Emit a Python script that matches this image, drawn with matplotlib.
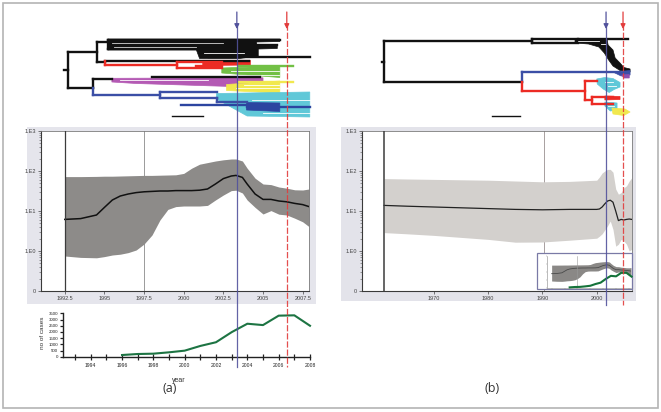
import matplotlib
matplotlib.use('Agg')
import matplotlib.pyplot as plt
from matplotlib.patches import Rectangle, Polygon, FancyArrowPatch
from matplotlib.lines import Line2D
from matplotlib import transforms
from matplotlib.ticker import NullFormatter

W, H = 661, 412

# ---------------- data: panel (a) skyline (log10 of Ne*tau) ----------------
years_a = [1992.5, 1993.5, 1994.5, 1995, 1995.5, 1996, 1996.5, 1997, 1997.5, 1998,
           1998.5, 1999, 1999.5, 2000, 2000.5, 2001, 2001.5, 2002, 2002.5, 2003,
           2003.3, 2003.7, 2004, 2004.5, 2005, 2005.5, 2006, 2006.5, 2007, 2007.5, 2007.9]
med_a = [0.79, 0.81, 0.90, 1.09, 1.275, 1.375, 1.425, 1.46, 1.48, 1.49,
         1.50, 1.50, 1.51, 1.51, 1.51, 1.52, 1.55, 1.675, 1.81, 1.875,
         1.89, 1.84, 1.675, 1.425, 1.29, 1.29, 1.25, 1.23, 1.19, 1.16, 1.11]
up_a = [1.86, 1.86, 1.865, 1.87, 1.87, 1.875, 1.88, 1.885, 1.89, 1.89,
        1.895, 1.90, 1.905, 1.94, 2.07, 2.17, 2.21, 2.25, 2.28, 2.30,
        2.30, 2.25, 2.07, 1.82, 1.675, 1.66, 1.60, 1.57, 1.53, 1.525, 1.55]
lo_a = [-0.125, -0.16, -0.17, -0.14, -0.10, -0.08, -0.04, 0.025, 0.175, 0.40,
        0.775, 1.04, 1.11, 1.125, 1.125, 1.125, 1.14, 1.275, 1.40, 1.51,
        1.52, 1.45, 1.275, 1.09, 0.925, 1.01, 0.92, 0.90, 0.82, 0.73, 0.61]

# ---------------- data: panel (b) skyline ----------------
years_b = [1960.8, 1965, 1970, 1975, 1980, 1985, 1990, 1995, 2000, 2000.5, 2001,
           2001.5, 2002, 2002.5, 2003, 2003.5, 2004, 2004.5, 2005, 2005.5, 2006, 2006.45]
med_b = [1.14, 1.12, 1.10, 1.08, 1.06, 1.04, 1.03, 1.04, 1.04, 1.05, 1.10,
         1.18, 1.25, 1.27, 1.22, 1.00, 0.76, 0.79, 0.775, 0.79, 0.80, 0.79]
up_b = [1.81, 1.80, 1.79, 1.78, 1.77, 1.75, 1.73, 1.74, 1.77, 1.85, 1.95,
        2.00, 2.04, 2.04, 1.97, 1.55, 1.42, 1.46, 1.58, 1.63, 1.75, 1.83]
lo_b = [0.46, 0.43, 0.39, 0.34, 0.29, 0.22, 0.225, 0.27, 0.32, 0.37, 0.43,
        0.53, 0.63, 0.75, 0.54, 0.12, 0.17, 0.29, 0.25, 0.17, 0.00, 0.04]

# ---------------- data: reported cases ----------------
years_cases = [1996, 1997, 1998, 1999, 2000, 2001, 2002, 2003, 2004, 2005, 2006, 2007, 2008]
cases = [136, 217, 244, 353, 488, 868, 1167, 1980, 2659, 2550, 3310, 3337, 2496]

ytick_vals = [0.1, 1, 10, 100, 1000]
ytick_labels = ['0', '1.E0', '1.E1', '1.E2', '1.E3']
xticks_a = [1992.5, 1995, 1997.5, 2000, 2002.5, 2005, 2007.5]
xlabels_a = ['1992.5', '1995', '1997.5', '2000', '2002.5', '2005', '2007.5']
xticks_b = [1970, 1980, 1990, 2000]
xlabels_b = ['1970', '1980', '1990', '2000']
vlines_a = [1992.5, 1997.5]
vlines_b = [1960.8, 1990.2]
markers_a = [2003.35, 2006.5]
markers_b = [2001.72, 2004.85]

# ---------------- tree colours ----------------
K = '#111111'; R = '#ec2b24'; G = '#72c045'; M = '#b45ab4'; Y = '#f1e84f'
B = '#3b4fa6'; C = '#60c8d8'; DB = '#2c45a0'; P = '#8d4fb0'; Wt = 'white'

# tree (a): x = year, y = tip row
tree_a_fill = [
    (K, [(1995.22, 39.0), (2006.06, 39.0), (2006.06, 41.5), (2004.6, 42.0), (2004.6, 46.0),
         (2005.9, 46.0), (2005.9, 48.5), (2004.7, 49.0), (2004.7, 56.0), (2003.5, 58.5),
         (2001.0, 58.5), (2000.8, 50.0), (1995.22, 50.0)]),
    (R, [(2001.2, 60.3), (2004.2, 60.3), (2004.2, 65.0), (2001.2, 65.5)]),
    (G, [(2002.4, 68.0), (2006.06, 66.0), (2006.06, 77.5), (2002.4, 73.0)]),
    (M, [(1995.47, 78.3), (2005.0, 77.8), (2005.0, 86.0), (2003.0, 86.5), (1997.0, 83.5),
         (1995.47, 82.0)]),
    (Y, [(2002.7, 84.5), (2006.06, 81.0), (2006.06, 93.0), (2002.7, 90.5)]),
    (C, [(2002.07, 93.5), (2007.95, 92.0), (2007.95, 117.0), (2004.0, 116.0), (2002.07, 99.0)]),
    (DB, [(2003.96, 102.5), (2006.06, 103.0), (2006.06, 111.5), (2003.96, 110.0)]),
]
tree_a_h = [
    (1995.5, 2002.5, 43.3, Wt), (1995.6, 2000.8, 46.8, Wt), (2001.3, 2003.8, 53.0, Wt),
    (2003.0, 2006.0, 70.8, Wt), (2003.5, 2006.0, 74.5, Wt),
    (1996.0, 2001.5, 80.3, Wt),
    (2003.3, 2006.0, 88.0, Wt), (2003.8, 2006.0, 84.5, Wt),
    (2004.3, 2007.95, 100.0, Wt), (2005.0, 2007.95, 113.0, Wt), (2004.3, 2006.0, 107.0, Wt),
    (1992.68, 1994.53, 51.7, K), (1992.68, 1994.28, 87.7, K),
    (1994.53, 1995.22, 42.0, K), (1995.22, 2006.06, 40.0, K), (1995.22, 2001.0, 48.5, K),
    (1995.5, 2005.9, 45.0, K), (2001.6, 2007.95, 57.0, K),
    (1994.53, 1995.03, 62.0, K), (1995.03, 2004.1, 61.2, K),
    (1995.03, 1999.57, 64.5, R), (1999.57, 2002.4, 62.2, R), (1999.57, 2002.4, 68.0, R),
    (2000.8, 2002.4, 66.0, R), (2003.5, 2006.9, 65.5, G),
    (1994.28, 1995.47, 79.0, K), (1998.0, 2004.8, 77.3, K), (2003.5, 2006.9, 81.7, Y),
    (1994.28, 1998.5, 95.2, B), (1998.5, 2002.07, 92.0, B), (1998.5, 2002.07, 97.5, B),
    (2002.07, 2004.0, 101.5, B), (1999.8, 2004.0, 104.5, DB), (2003.96, 2007.95, 106.5, DB),
    (1992.45, 1992.68, 69.7, K),
]
tree_a_v = [
    (1992.68, 51.7, 87.7, K), (1994.53, 42.0, 62.0, K), (1995.22, 40.0, 48.5, K),
    (1994.28, 79.0, 87.7, K), (1994.28, 87.7, 95.2, B), (1995.03, 61.2, 64.5, R),
    (1999.57, 62.2, 68.0, R), (1998.5, 92.0, 97.5, B), (2002.07, 97.5, 101.5, B),
]
scale_a = (1999.25, 2001.21, 116.0)

# tree (b)
tree_b_fill = [
    (K, [(1996.0, 39.5), (2001.9, 39.0), (2002.1, 45.0), (2003.0, 50.0), (2003.4, 58.0),
         (2004.3, 63.0), (2005.0, 67.5), (2006.15, 69.0), (2006.15, 72.0), (2004.3, 70.5),
         (2003.0, 66.0), (2002.2, 60.0), (2001.4, 53.0), (2000.4, 47.0), (1998.5, 44.0),
         (1996.0, 43.0)]),
    (B, [(2003.0, 72.0), (2006.15, 70.5), (2006.15, 75.0), (2004.5, 76.0)]),
    (P, [(2004.6, 75.0), (2006.0, 74.5), (2006.0, 78.0), (2005.0, 78.0)]),
    (C, [(2000.0, 79.0), (2001.5, 77.5), (2003.0, 78.5), (2004.3, 82.5), (2004.3, 87.0),
         (2003.2, 89.5), (2002.3, 92.5), (2001.2, 89.0), (2000.1, 84.0)]),
    (R, [(2001.5, 96.0), (2004.3, 96.5), (2004.3, 99.5), (2001.5, 100.0)]),
    (C, [(2001.5, 102.0), (2003.75, 103.0), (2003.75, 110.0), (2002.5, 111.0), (2001.5, 106.0)]),
    (Y, [(2002.8, 108.0), (2005.2, 109.0), (2006.15, 112.0), (2005.0, 115.5), (2003.0, 114.0)]),
]
tree_b_h = [
    (1996.6, 2000.5, 41.2, Wt), (2000.8, 2001.8, 44.0, Wt), (2001.5, 2003.0, 82.0, Wt),
    (2002.0, 2003.6, 86.0, Wt), (2002.0, 2003.2, 106.0, Wt),
    (1960.8, 1988.0, 41.0, K), (1988.0, 1996.6, 39.3, K), (1988.0, 1996.6, 42.7, K),
    (1996.6, 2005.8, 38.5, K), (1960.8, 1986.23, 82.3, K),
    (1986.23, 2004.3, 72.3, B), (1986.23, 1997.85, 90.5, R), (1997.85, 2000.07, 81.0, R),
    (1997.85, 1999.14, 100.0, R), (1999.14, 2003.0, 97.0, R), (1999.14, 2003.0, 103.5, R),
    (1960.5, 1960.8, 61.6, K),
]
tree_b_v = [
    (1960.8, 41.0, 82.3, K), (1988.0, 39.3, 42.7, K), (1986.23, 72.3, 82.3, B),
    (1986.23, 82.3, 90.5, R), (1997.85, 81.0, 100.0, R), (1999.14, 97.0, 103.5, R),
]
scale_b = (1980.7, 1985.9, 116.0)

# ---------------- figure ----------------
plt.rcParams['font.family'] = ['Liberation Sans', 'DejaVu Sans']
fig = plt.figure(figsize=(W / 100, H / 100), dpi=100)
fig.patch.set_facecolor('white')


def box(l, t, r, b):
    return [l / W, 1 - b / H, (r - l) / W, (b - t) / H]


def frect(l, t, r, b, **kw):
    rect = Rectangle((l / W, 1 - b / H), (r - l) / W, (b - t) / H,
                     transform=fig.transFigure, **kw)
    fig.add_artist(rect)
    return rect


# outer frame and gray panels
frect(3, 3, 658, 408, facecolor='none', edgecolor='#b4b4b4', lw=1.2, zorder=-2)
frect(27, 127, 316, 304, facecolor='#e5e5ec', edgecolor='none', zorder=-1)
frect(341, 127, 636, 301, facecolor='#e3e3ea', edgecolor='none', zorder=-1)


def setup_mid(ax, xlim, xticks, xlabels):
    ax.set_yscale('log')
    ax.set_ylim(0.1, 1000)
    ax.set_xlim(*xlim)
    ax.set_yticks(ytick_vals)
    ax.set_yticklabels(ytick_labels)
    ax.yaxis.set_minor_formatter(NullFormatter())
    ax.set_xticks(xticks)
    ax.set_xticklabels(xlabels)
    ax.tick_params(labelsize=4, colors='#444444', length=2, width=0.5, pad=1.5)
    ax.tick_params(which='minor', length=1.2, width=0.4, colors='#555555')
    ax.set_facecolor('white')
    for s in ['left', 'bottom']:
        ax.spines[s].set_color('#3a3a3a')
        ax.spines[s].set_linewidth(0.8)
    for s in ['top', 'right']:
        ax.spines[s].set_color('#7a7a7a')
        ax.spines[s].set_linewidth(0.6)


ax_a = fig.add_axes(box(41, 131, 309, 291))
setup_mid(ax_a, (1991.0, 2007.9), xticks_a, xlabels_a)
ax_a.fill_between(years_a, [10 ** v for v in lo_a], [10 ** v for v in up_a],
                  color='#8d8b89', lw=0, zorder=2)
ax_a.plot(years_a, [10 ** v for v in med_a], color='#111111', lw=1.1, zorder=3)
ax_a.axvline(vlines_a[0], color='#3c3c3c', lw=0.9, zorder=4)
ax_a.axvline(vlines_a[1], color='#8a8a8a', lw=0.6, zorder=1)

ax_b = fig.add_axes(box(361.7, 131, 631.7, 291))
setup_mid(ax_b, (1956.67, 2006.45), xticks_b, xlabels_b)
ax_b.fill_between(years_b, [10 ** v for v in lo_b], [10 ** v for v in up_b],
                  color='#d3d0cd', lw=0, zorder=2)
ax_b.plot(years_b, [10 ** v for v in med_b], color='#222222', lw=0.9, zorder=3)
ax_b.axvline(vlines_b[0], color='#3c3c3c', lw=1.1, zorder=4)
ax_b.axvline(vlines_b[1], color='#9a9090', lw=0.6, zorder=1)

# inset in (b)
frect(537, 253, 632, 289, facecolor='white', edgecolor='#7a7aa6', lw=0.9, zorder=1)
ax_in = fig.add_axes(box(547, 256, 631, 288))
ax_in.set_zorder(2)
ax_in.set_facecolor('none')
ax_in.set_yscale('log')
ax_in.set_ylim(0.1, 1000)
ax_in.set_xlim(1991.6, 2007.9)
ax_in.fill_between(years_a, [10 ** v for v in lo_a], [10 ** v for v in up_a],
                   color='#8a8886', lw=0)
ax_in.plot(years_a, [10 ** v for v in med_a], color='#4a4a4a', lw=0.6)
ax_in.axvline(vlines_a[1], color='#9a9a9a', lw=0.4)
ax_in.set_xticks(xticks_a)
ax_in.set_xticklabels([])
ax_in.set_yticks(ytick_vals)
ax_in.set_yticklabels([])
ax_in.yaxis.set_minor_formatter(NullFormatter())
ax_in.tick_params(length=1, width=0.3, colors='#888888')
ax_in.tick_params(which='minor', length=0)
for s in ['top', 'right']:
    ax_in.spines[s].set_visible(False)
for s in ['left', 'bottom']:
    ax_in.spines[s].set_color('#888888')
    ax_in.spines[s].set_linewidth(0.4)
ax_in2 = ax_in.twinx()
ax_in2.plot(years_cases, cases, color='#15733a', lw=1.5, clip_on=False)
ax_in2.set_ylim(0, 7000)
ax_in2.axis('off')

# cases panel (a)
ax_c = fig.add_axes(box(63.3, 313.3, 310, 356.7))
ax_c.plot(years_cases, cases, color='#1d7443', lw=1.5, clip_on=False, zorder=3)
ax_c.set_xlim(1992.25, 2008.0)
ax_c.set_ylim(0, 3500)
ax_c.set_xticks(list(range(1993, 2009)))
ax_c.set_xticklabels([str(y) if y % 2 == 0 else '' for y in range(1993, 2009)])
ax_c.set_yticks(list(range(0, 3501, 500)))
for s in ['top', 'right']:
    ax_c.spines[s].set_visible(False)
for s in ['left', 'bottom']:
    ax_c.spines[s].set_color('#222222')
    ax_c.spines[s].set_linewidth(1.0)
ax_c.tick_params(axis='x', direction='inout', length=4.5, width=0.9, labelsize=3.6,
                 pad=2.5, colors='#222222')
ax_c.tick_params(axis='y', direction='out', length=2.5, width=0.9, labelsize=3.2,
                 pad=1, colors='#222222')
ax_c.set_ylabel('no of cases', fontsize=4.6, color='#333333')
ax_c.set_xlabel('year', fontsize=5, color='#333333')
ax_c.yaxis.set_label_coords(-0.075, 0.55)
ax_c.xaxis.set_label_coords(0.47, -0.46)


# trees
def draw_tree(ax, fills, hsegs, vsegs, scale):
    for col, pts in fills:
        ax.add_patch(Polygon(pts, closed=True, facecolor=col, edgecolor=col, lw=0.5))
    for x0, x1, y, col in hsegs:
        lw = 0.6 if col == Wt else 1.7
        ax.plot([x0, x1], [y, y], color=col, lw=lw, solid_capstyle='projecting')
    for x, y0, y1, col in vsegs:
        ax.plot([x, x], [y0, y1], color=col, lw=1.7, solid_capstyle='projecting')
    ax.plot([scale[0], scale[1]], [scale[2], scale[2]], color=K, lw=1.0)


ax_ta = fig.add_axes(box(41, 10, 309, 120))
ax_ta.set_xlim(1991.0, 2007.9)
ax_ta.set_ylim(120, 10)
ax_ta.axis('off')
draw_tree(ax_ta, tree_a_fill, tree_a_h, tree_a_v, scale_a)
for art in ax_ta.lines + ax_ta.patches:
    art.set_clip_on(False)

ax_tb = fig.add_axes(box(361.7, 10, 631.7, 120))
ax_tb.set_xlim(1956.67, 2006.45)
ax_tb.set_ylim(120, 10)
ax_tb.axis('off')
draw_tree(ax_tb, tree_b_fill, tree_b_h, tree_b_v, scale_b)
for art in ax_tb.lines + ax_tb.patches:
    art.set_clip_on(False)


# date markers (blue / red) spanning the panels
def markers(ax_ref, years, y_bottom):
    trans = transforms.blended_transform_factory(ax_ref.transData, fig.transFigure)
    styles = [('#52529c', '-'), ('#e23c3c', (0, (5, 1.5)))]
    for yr, (col, ls) in zip(years, styles):
        fig.add_artist(Line2D([yr, yr], [1 - 24 / H, 1 - y_bottom / H], transform=trans,
                              color=col, lw=0.9, ls=ls, zorder=6, alpha=0.9))
        fig.add_artist(FancyArrowPatch((yr, 1 - 12 / H), (yr, 1 - 29 / H), transform=trans,
                                       arrowstyle='-|>', mutation_scale=7, color=col,
                                       lw=0.9, zorder=6, shrinkA=0, shrinkB=0))


markers(ax_a, markers_a, 367)
markers(ax_b, markers_b, 305)

fig.text(170 / W, 1 - 389 / H, '(a)', fontsize=9, ha='center', va='center',
         color='#333333', family=['Open Sans', 'DejaVu Sans'])
fig.text(492 / W, 1 - 389 / H, '(b)', fontsize=9, ha='center', va='center',
         color='#333333', family=['Open Sans', 'DejaVu Sans'])

fig.savefig('out.png', dpi=100, facecolor='white')
